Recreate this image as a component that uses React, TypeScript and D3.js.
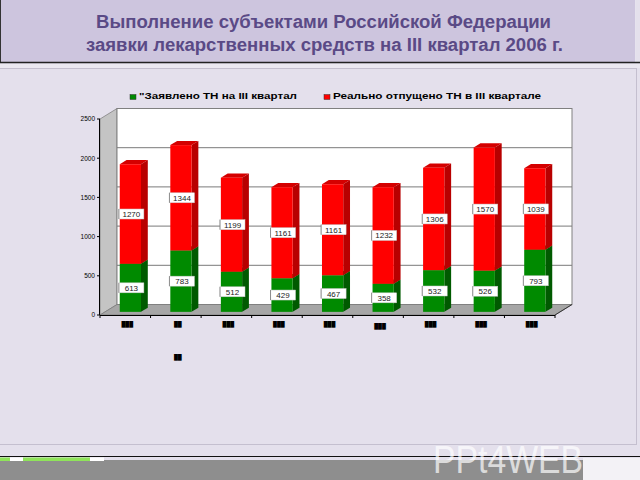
import React from 'react';
import * as d3 from 'd3';

const titleLines = ['Выполнение субъектами Российской Федерации', 'заявки лекарственных средств на III квартал 2006 г.'];
const seriesNames = ['"Заявлено ТН на III квартал', 'Реально отпущено ТН  в III квартале'];
const categories = ['k1', 'k2', 'k3', 'k4', 'k5', 'k6', 'k7', 'k8', 'k9'];
// category labels are illegible in the reference (tiny black blobs)
const categoryLabels = [['███'], ['██', '██'], ['███'], ['███'], ['███'], ['███'], ['███'], ['███'], ['███']];
const declared = [613, 783, 512, 429, 467, 358, 532, 526, 793];
const released = [1270, 1344, 1199, 1161, 1161, 1232, 1306, 1570, 1039];
const yTicks = [0, 500, 1000, 1500, 2000, 2500];

const DX = 17;
const DY = 10.5;
const D1 = 0.3;
const D2 = 0.7;

export default function App() {
  const x = d3.scaleBand<string>().domain(categories).range([100, 555]).padding(0);
  const y = d3.scaleLinear().domain([0, 2500]).range([315, 119]);
  const P = (xf: number, v: number, d: number): [number, number] => [xf + d * DX, y(v) - d * DY];
  const pts = (arr: [number, number][]) => arr.map((p) => p.join(',')).join(' ');

  const stack = d3.stack<number>().keys(['a', 'b']).value((i, k) => (k === 'a' ? declared[i] : released[i]));
  const layers = stack(categories.map((_, i) => i));
  const colors = [
    { front: '#008a00', side: '#005a00', top: '#006e00' },
    { front: '#ff0000', side: '#b80000', top: '#d40000' },
  ];
  const bw = x.bandwidth() * 0.42;

  const x0 = 100, x1 = 555;
  const y0 = y(0), yTop = y(2500);

  return (
    <svg width={640} height={480} style={{ position: 'absolute', left: 0, top: 0 }} fontFamily="Liberation Sans, Arial, sans-serif">
      <rect x={0} y={0} width={640} height={480} fill="#e4e0ec" />
      {/* title band */}
      <rect x={0} y={0} width={636} height={62} fill="#cdc5de" />
      <line x1={0.5} y1={0} x2={0.5} y2={62} stroke="#333" strokeWidth={1} />
      <line x1={635.5} y1={0} x2={635.5} y2={62} stroke="#e6e2ee" strokeWidth={1} />
      <line x1={0} y1={62.5} x2={640} y2={62.5} stroke="#222" strokeWidth={1.6} />
      <rect x={0} y={64} width={640} height={4} fill="#ebe8f1" />
      <line x1={0} y1={68.5} x2={637} y2={68.5} stroke="#c4bfcf" />
      <line x1={636.5} y1={68} x2={636.5} y2={444} stroke="#c4bfcf" />
      <line x1={0} y1={444.5} x2={637} y2={444.5} stroke="#c4bfcf" />
      {titleLines.map((t, i) => (
        <text key={i} x={i === 0 ? 96 : 86} y={i === 0 ? 28 : 50.5} fontSize={18} fontWeight="bold" fill="#5a4a86"
          textLength={i === 0 ? 455 : 477} lengthAdjust="spacingAndGlyphs">{t}</text>
      ))}

      {/* legend */}
      <rect x={130} y={94.5} width={6} height={5} fill="#008a00" stroke="#333" strokeWidth={0.5} />
      <text x={139} y={99} fontSize={9.5} fontWeight="bold" fill="#000" textLength={158} lengthAdjust="spacingAndGlyphs">{seriesNames[0]}</text>
      <rect x={324} y={94.5} width={6} height={5} fill="#ff0000" stroke="#333" strokeWidth={0.5} />
      <text x={333} y={99} fontSize={9.5} fontWeight="bold" fill="#000" textLength={208} lengthAdjust="spacingAndGlyphs">{seriesNames[1]}</text>

      {/* walls */}
      <polygon points={pts([[x0, yTop], [x0, y0], [x0 + DX, y0 - DY], [x0 + DX, yTop - DY]])} fill="#c4c4c4" stroke="#777" strokeWidth={0.7} />
      <polygon points={pts([[x0, y0], [x1, y0], [x1 + DX, y0 - DY], [x0 + DX, y0 - DY]])} fill="#a6a6a6" stroke="#777" strokeWidth={0.7} />
      <rect x={x0 + DX} y={yTop - DY} width={x1 - x0} height={y0 - yTop} fill="#ffffff" stroke="#808080" strokeWidth={1} />
      {yTicks.slice(1, -1).map((t) => (
        <line key={t} x1={x0 + DX} x2={x1 + DX} y1={y(t) - DY} y2={y(t) - DY} stroke="#7a7a7a" strokeWidth={1} />
      ))}

      {/* bars */}
      {layers.map((layer, s) =>
        layer.map((seg, i) => {
          const c = categories[i];
          const xc = (x(c) as number) + x.bandwidth() / 2;
          const xl = xc - bw / 2, xr = xc + bw / 2;
          const v0 = seg[0], v1 = seg[1];
          const col = colors[s];
          return (
            <g key={s + '-' + i}>
              <polygon points={pts([P(xl, v1, D1), P(xr, v1, D1), P(xr, v1, D2), P(xl, v1, D2)])} fill={col.top} />
              <polygon points={pts([P(xr, v0, D1), P(xr, v1, D1), P(xr, v1, D2), P(xr, v0, D2)])} fill={col.side} />
              <rect x={P(xl, v1, D1)[0]} y={P(xl, v1, D1)[1]} width={bw} height={y(v0) - y(v1)} fill={col.front} />
            </g>
          );
        })
      )}
      {/* value labels */}
      {layers.map((layer, s) =>
        layer.map((seg, i) => {
          const c = categories[i];
          const xc = (x(c) as number) + x.bandwidth() / 2;
          const [lx, ly] = P(xc + 1, (seg[0] + seg[1]) / 2, D1);
          const val = s === 0 ? declared[i] : released[i];
          return (
            <g key={'l' + s + '-' + i}>
              <rect x={lx - 12.5} y={ly - 5} width={25} height={10} fill="#fff" stroke="#c8c8c8" strokeWidth={0.5} />
              <line x1={lx - 12.5} x2={lx - 12.5} y1={ly - 5} y2={ly + 5} stroke="#666" strokeWidth={0.7} />
              <text x={lx} y={ly + 3} fontSize={8} textAnchor="middle" fill="#222">{val}</text>
            </g>
          );
        })
      )}

      {/* axes */}
      <line x1={x0 - 0.5} x2={x0 - 0.5} y1={yTop} y2={y0} stroke="#000" strokeWidth={1} />
      {yTicks.map((t) => (
        <g key={t}>
          <line x1={x0 - 3} x2={x0} y1={y(t)} y2={y(t)} stroke="#000" />
          <text x={x0 - 5} y={y(t) + 2.3} fontSize={6.5} textAnchor="end" fill="#000">{t}</text>
        </g>
      ))}
      <line x1={x0} x2={x1} y1={y0 + 0.5} y2={y0 + 0.5} stroke="#000" strokeWidth={1} />
      <line x1={x1} x2={x1 + DX} y1={y0} y2={y0 - DY} stroke="#333" strokeWidth={1} />
      {categories.map((c) => (
        <line key={'t' + c} x1={x(c) as number} x2={x(c) as number} y1={y0} y2={y0 + 3} stroke="#000" />
      ))}
      <line x1={x1} x2={x1} y1={y0} y2={y0 + 3} stroke="#000" />
      {categories.map((c, i) => {
        const xc = (x(c) as number) + x.bandwidth() / 2 + 2;
        return categoryLabels[i].map((l, j) => (
          <text key={c + j} x={xc} y={(i === 5 ? 328 : 326) + j * 33} fontSize={5.5} fontWeight="bold" textAnchor="middle" fill="#000">{l}</text>
        ));
      })}

      {/* footer */}
      <rect x={0} y={460} width={583} height={20} fill="#8e8e8e" />
      <rect x={583} y={458} width={57} height={22} fill="#f3f2f6" />
      <line x1={0} y1={456.5} x2={640} y2={456.5} stroke="#111" strokeWidth={1.2} />
      <rect x={0} y={457.5} width={10} height={3.5} fill="#8fe35a" />
      <rect x={10} y={457.5} width={13} height={3.5} fill="#ffffff" />
      <rect x={23} y={457.5} width={67} height={3.5} fill="#8fe35a" />
      <rect x={90} y={457.5} width={14} height={3.5} fill="#ffffff" />
      <text x={433} y={473} fontSize={38} fill="#ffffff" fillOpacity={0.7} textLength={150} lengthAdjust="spacingAndGlyphs">PPt4WEB</text>
    </svg>
  );
}
